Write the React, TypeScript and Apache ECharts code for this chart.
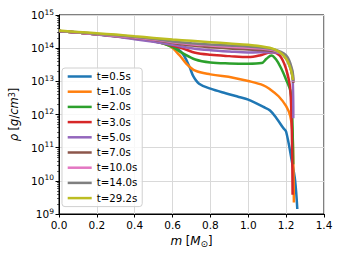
import React, { useEffect, useRef } from "react";
import * as echarts from "echarts";

const seriesNames = ["t=0.5s", "t=1.0s", "t=2.0s", "t=3.0s", "t=5.0s", "t=7.0s", "t=10.0s", "t=14.0s", "t=29.2s"];
const seriesColors = ["#1f77b4", "#ff7f0e", "#2ca02c", "#d62728", "#9467bd", "#8c564b", "#e377c2", "#7f7f7f", "#bcbd22"];

const xTicks = [0, 0.2, 0.4, 0.6, 0.8, 1.0, 1.2, 1.4];
const yDecades = [9, 10, 11, 12, 13, 14, 15];

// mass [M_sun] and log10(rho [g/cm^3]) per snapshot
const mass05 = [0, 0.1, 0.2, 0.3, 0.4, 0.5, 0.58, 0.63, 0.66, 0.69, 0.71, 0.74, 0.8, 0.88, 0.95, 1.0, 1.08, 1.115, 1.15, 1.185, 1.2, 1.229, 1.247, 1.259];
const logRho05 = [14.52, 14.47, 14.42, 14.36, 14.29, 14.21, 14.1, 13.97, 13.78, 13.43, 13.15, 12.93, 12.78, 12.64, 12.53, 12.45, 12.23, 12.12, 11.88, 11.59, 11.48, 10.63, 10.03, 9.15];

const mass10 = [0, 0.1, 0.2, 0.3, 0.4, 0.5, 0.58, 0.635, 0.67, 0.72, 0.8, 0.92, 1.0, 1.08, 1.115, 1.16, 1.2, 1.222, 1.233, 1.238, 1.241];
const logRho10 = [14.52, 14.47, 14.42, 14.36, 14.29, 14.21, 14.08, 13.8, 13.55, 13.32, 13.21, 13.11, 13.01, 12.88, 12.76, 12.55, 12.25, 11.95, 11.5, 10.5, 9.35];

const mass20 = [0, 0.1, 0.2, 0.3, 0.4, 0.5, 0.6, 0.65, 0.72, 0.8, 0.9, 1.0, 1.07, 1.096, 1.122, 1.148, 1.173, 1.2, 1.223, 1.232, 1.237];
const logRho20 = [14.52, 14.47, 14.42, 14.36, 14.3, 14.22, 14.03, 13.86, 13.66, 13.57, 13.54, 13.53, 13.55, 13.68, 13.78, 13.65, 13.4, 13.05, 12.7, 12.0, 10.5];

const mass30 = [0, 0.1, 0.2, 0.3, 0.4, 0.5, 0.6, 0.66, 0.72, 0.8, 0.9, 1.0, 1.06, 1.104, 1.13, 1.165, 1.19, 1.209, 1.222, 1.23, 1.234];
const logRho30 = [14.52, 14.47, 14.42, 14.37, 14.31, 14.23, 14.08, 13.98, 13.86, 13.8, 13.76, 13.73, 13.78, 13.86, 13.88, 13.78, 13.53, 13.18, 12.75, 11.5, 9.58];

const mass50 = [0, 0.1, 0.2, 0.3, 0.4, 0.5, 0.6, 0.7, 0.8, 0.9, 1.0, 1.113, 1.165, 1.2, 1.226, 1.235, 1.238];
const logRho50 = [14.52, 14.47, 14.41, 14.35, 14.27, 14.19, 14.1, 14.0, 13.94, 13.9, 13.87, 13.88, 13.85, 13.68, 13.33, 13.0, 11.89];

const mass70 = [0, 0.1, 0.2, 0.3, 0.4, 0.5, 0.6, 0.7, 0.8, 0.9, 1.0, 1.165, 1.209, 1.235, 1.238];
const logRho70 = [14.52, 14.47, 14.42, 14.37, 14.31, 14.25, 14.16, 14.08, 14.03, 13.99, 13.96, 13.88, 13.63, 13.13, 12.95];

const mass100 = [0, 0.1, 0.2, 0.3, 0.4, 0.5, 0.6, 0.7, 0.8, 0.9, 1.0, 1.13, 1.2, 1.231, 1.238];
const logRho100 = [14.52, 14.47, 14.42, 14.37, 14.32, 14.26, 14.18, 14.12, 14.08, 14.04, 14.01, 13.94, 13.73, 13.33, 12.98];

const mass140 = [0, 0.1, 0.2, 0.3, 0.4, 0.5, 0.6, 0.7, 0.8, 0.9, 1.0, 1.13, 1.2, 1.232, 1.238];
const logRho140 = [14.52, 14.48, 14.43, 14.39, 14.34, 14.28, 14.2, 14.15, 14.11, 14.08, 14.05, 13.97, 13.78, 13.35, 13.0];

const mass292 = [0, 0.1, 0.2, 0.3, 0.4, 0.5, 0.6, 0.7, 0.8, 0.9, 1.0, 1.113, 1.165, 1.2, 1.226, 1.236];
const logRho292 = [14.53, 14.49, 14.45, 14.41, 14.36, 14.31, 14.26, 14.22, 14.18, 14.14, 14.1, 14.01, 13.88, 13.68, 13.33, 13.04];

const seriesMass = [mass05, mass10, mass20, mass30, mass50, mass70, mass100, mass140, mass292];
const seriesLogRho = [logRho05, logRho10, logRho20, logRho30, logRho50, logRho70, logRho100, logRho140, logRho292];

const minorTickValues: number[] = [];
for (let d = 9; d < 15; d++) {
  for (let k = 2; k <= 9; k++) minorTickValues.push(d + Math.log10(k));
}

const FONT = "DejaVu Sans";

export default function App() {
  const ref = useRef<HTMLDivElement>(null);
  useEffect(() => {
    if (!ref.current) return;
    const chart = echarts.init(ref.current, null, { renderer: "svg" });
    const option: any = {
      animation: false,
      textStyle: { fontFamily: FONT, color: "#000" },
      grid: {
        left: 59, top: 15, width: 265, height: 199,
        show: true, borderColor: "#000", borderWidth: 1, backgroundColor: "transparent",
      },
      legend: {
        orient: "vertical",
        left: 62, top: 68,
        data: seriesNames,
        icon: "rect",
        itemWidth: 24, itemHeight: 2.5,
        itemGap: 4.2,
        padding: [3, 5, 3, 5.7],
        backgroundColor: "rgba(255,255,255,0.8)",
        borderColor: "#d0d0d0", borderWidth: 1, borderRadius: 3,
        textStyle: { fontFamily: FONT, fontSize: 10.2, lineHeight: 11, color: "#000" },
      },
      xAxis: {
        type: "value", min: 0, max: 1.4, interval: 0.2,
        axisLine: { show: true, lineStyle: { color: "#000", width: 1 } },
        axisTick: { show: true, length: 3.5, lineStyle: { color: "#000" } },
        axisLabel: {
          color: "#000", fontFamily: FONT, fontSize: 10.5, margin: 5,
          formatter: (v: number) => v.toFixed(1),
        },
        splitLine: { show: true, lineStyle: { color: "#d9d9d9", width: 1 } },
        name: "{i|m} [{i|M}{sub|⊙}]",
        nameLocation: "middle",
        nameGap: 18,
        nameTextStyle: {
          fontFamily: FONT, fontSize: 11.5, color: "#000",
          rich: {
            n: { fontFamily: FONT, fontSize: 11.5, color: "#000" },
            i: { fontFamily: FONT, fontSize: 12, fontStyle: "italic", color: "#000" },
            sub: { fontFamily: FONT, fontSize: 9, color: "#000", padding: [6, 0, 0, 0] },
          },
        },
      },
      yAxis: [
        {
          type: "value", min: 9, max: 15, interval: 1,
          axisLine: { show: true, lineStyle: { color: "#000", width: 1 } },
          axisTick: { show: true, length: 3.5, lineStyle: { color: "#000" } },
          axisLabel: {
            margin: 5,
            formatter: (v: number) => `{b|10}{s|${Math.round(v)}}`,
            rich: {
              b: { fontFamily: FONT, fontSize: 10.5, lineHeight: 14, color: "#000" },
              s: { fontFamily: FONT, fontSize: 7.5, lineHeight: 8, verticalAlign: "top", color: "#000" },
            },
          },
          splitLine: { show: true, lineStyle: { color: "#d9d9d9", width: 1 } },
          name: "{i|ρ} [{i|g}/{i|cm}{s|3}]",
          nameLocation: "middle",
          nameRotate: 90,
          nameGap: 34,
          nameTextStyle: {
            fontFamily: FONT, fontSize: 11.5, color: "#000",
            rich: {
              i: { fontFamily: FONT, fontSize: 11.5, fontStyle: "italic", color: "#000" },
              s: { fontFamily: FONT, fontSize: 8, verticalAlign: "top", lineHeight: 8, color: "#000" },
            },
          },
        },
        {
          type: "value", min: 9, max: 15, position: "left",
          axisLine: { show: false },
          axisLabel: { show: false },
          splitLine: { show: false },
          axisTick: { show: true, length: 2, customValues: minorTickValues, lineStyle: { color: "#000", width: 0.6 } },
        },
      ],
      series: seriesNames.map((name, si) => ({
        name,
        type: "line",
        yAxisIndex: 0,
        showSymbol: false,
        symbol: "none",
        smooth: 0.35,
        color: seriesColors[si],
        lineStyle: { width: 2.5, color: seriesColors[si] },
        data: seriesMass[si].map((m, i) => [m, seriesLogRho[si][i]]),
      })),
    };
    chart.setOption(option);
    return () => chart.dispose();
  }, []);
  return <div ref={ref} style={{ width: 342, height: 257, position: "absolute", left: 0, top: 0 }} />;
}
